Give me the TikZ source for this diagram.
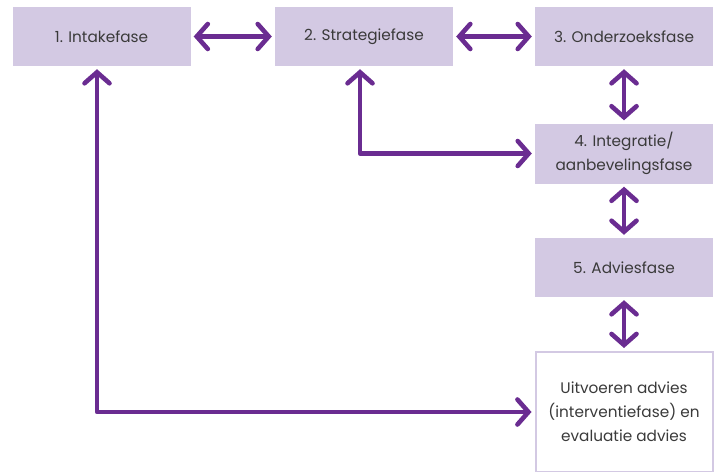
\documentclass[tikz,border=0pt]{standalone}
\usepackage{fontspec}
\setmainfont{Poppins}
\usetikzlibrary{arrows.meta}

\definecolor{fasepaars}{HTML}{6A2C91}
\definecolor{faselila}{HTML}{D3C9E3}
\definecolor{fasetekst}{HTML}{3A3A3A}

\begin{document}
\begin{tikzpicture}[x=1pt,y=-1pt,
    fase/.style={fill=faselila,text=fasetekst,minimum width=178pt,
      minimum height=59pt,align=center,inner sep=2pt,
      font=\fontsize{15.3}{24}\selectfont},
    pijl/.style={draw=fasepaars,line width=4.6pt,line join=round,
      shorten <=3pt,shorten >=3pt,
      arrows={Straight Barb[length=11pt,width=25pt,line cap=round]-Straight Barb[length=11pt,width=25pt,line cap=round]}}]
    \clip (0,0) rectangle (719,471);
    \node[fase] (intake) at (101.5,36.5) {1. Intakefase};
    \node[fase] (strategie) at (364,36.5) {2. Strategiefase};
    \node[fase] (onderzoek) at (624,36.5) {3. Onderzoeksfase};
    \node[fase,minimum height=60pt] (integratie) at (624,153.5) {4. Integratie/\\aanbevelingsfase};
    \node[fase] (advies) at (624,267.5) {5. Adviesfase};
    \node[fase,fill=white,draw=faselila,line width=2pt,minimum width=177pt,
      minimum height=120pt] (uitvoeren) at (624,412)
      {Uitvoeren advies\\(interventiefase) en\\evaluatie advies};
    \draw[pijl] (intake) -- (strategie);
    \draw[pijl] (strategie) -- (onderzoek);
    \draw[pijl] (onderzoek) -- (integratie);
    \draw[pijl] (integratie) -- (advies);
    \draw[pijl] (advies) -- (uitvoeren);
    \draw[pijl] ([xshift=-4pt]strategie.south) |- (integratie.west);
    \draw[pijl] ([xshift=-4.5pt]intake.south) |- (uitvoeren.west);
\end{tikzpicture}
\end{document}
